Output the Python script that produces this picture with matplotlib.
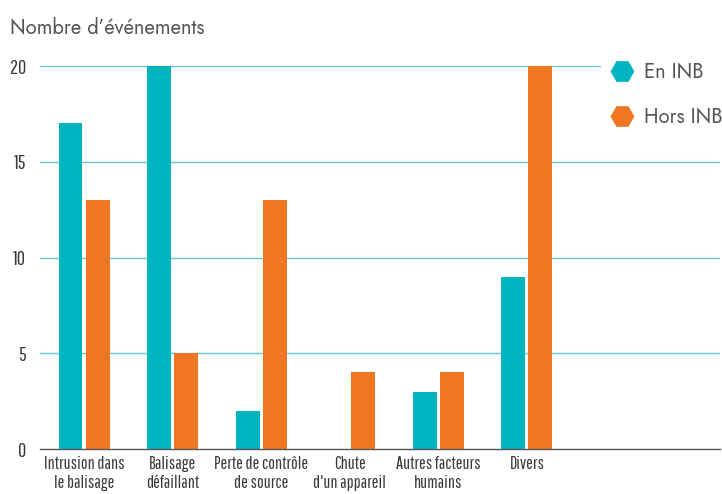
import matplotlib.pyplot as plt
import numpy as np
from matplotlib import font_manager
from matplotlib.lines import Line2D

categories = [
    "Intrusion dans\nle balisage",
    "Balisage\ndéfaillant",
    "Perte de contrôle\nde source",
    "Chute\nd'un appareil",
    "Autres facteurs\nhumains",
    "Divers",
]
en_inb = [17, 20, 2, 0, 3, 9]
hors_inb = [13, 5, 13, 4, 4, 20]
yticks = [0, 5, 10, 15, 20]

TEAL = "#00b4bf"
ORANGE = "#ef7622"
GRID = "#62cbd3"
TEXT = "#3a3a3a"

available = {f.name for f in font_manager.fontManager.ttflist}


def pick(*prefs):
    for p in prefs:
        if p in available:
            return [p, "DejaVu Sans"]
    return ["DejaVu Sans"]


NARROW = pick("Pathway Gothic One", "Roboto Condensed", "Barlow Condensed",
              "Archivo Narrow", "PT Sans Narrow", "Open Sans Condensed")
FUTURA = pick("Jost", "Lato")

fig = plt.figure(figsize=(7.22, 4.94), dpi=100)
ax = fig.add_axes([40 / 722, 45 / 494, 680 / 722, 383 / 494])

x = np.arange(len(categories))
w = 0.27
ax.bar(x - 0.153, en_inb, width=w, color=TEAL, zorder=3)
ax.bar(x + 0.153, hors_inb, width=w, color=ORANGE, zorder=3)

ax.set_xlim(-0.497, 7.18)
ax.set_ylim(0, 20)
ax.set_yticks(yticks)
ax.set_yticklabels([str(v) for v in yticks], family=NARROW, fontsize=14.5, color=TEXT)
for v in yticks[1:]:
    ax.axhline(v, color=GRID, lw=1, zorder=1)
ax.axhline(0, color="#555555", lw=1, zorder=4, clip_on=False)

ax.set_xticks(x)
ax.set_xticklabels(categories, family=NARROW, fontsize=13, color=TEXT,
                   linespacing=1.25)
ax.tick_params(length=0, axis="both")
ax.tick_params(axis="y", pad=10)
ax.tick_params(axis="x", pad=5)
for s in ax.spines.values():
    s.set_visible(False)

fig.text(10 / 722, 1 - 27 / 494, "Nombre d\u2019événements", fontsize=14.5,
         family=FUTURA, color="#555555", va="center")

handles = [
    Line2D([], [], marker="H", ls="", color=TEAL, markersize=16),
    Line2D([], [], marker="H", ls="", color=ORANGE, markersize=16),
]
leg = fig.legend(handles, ["En INB", "Hors INB"], loc="upper left",
                 bbox_to_anchor=(591 / 722, 1 - 45 / 494), frameon=True,
                 facecolor="white", edgecolor="none", fancybox=False,
                 prop={"family": FUTURA, "size": 14.5},
                 labelspacing=1.15, handletextpad=0.35,
                 handlelength=1.5, borderpad=0.3, framealpha=1)
for t in leg.get_texts():
    t.set_color("#555555")

fig.savefig("out.png", dpi=100)
